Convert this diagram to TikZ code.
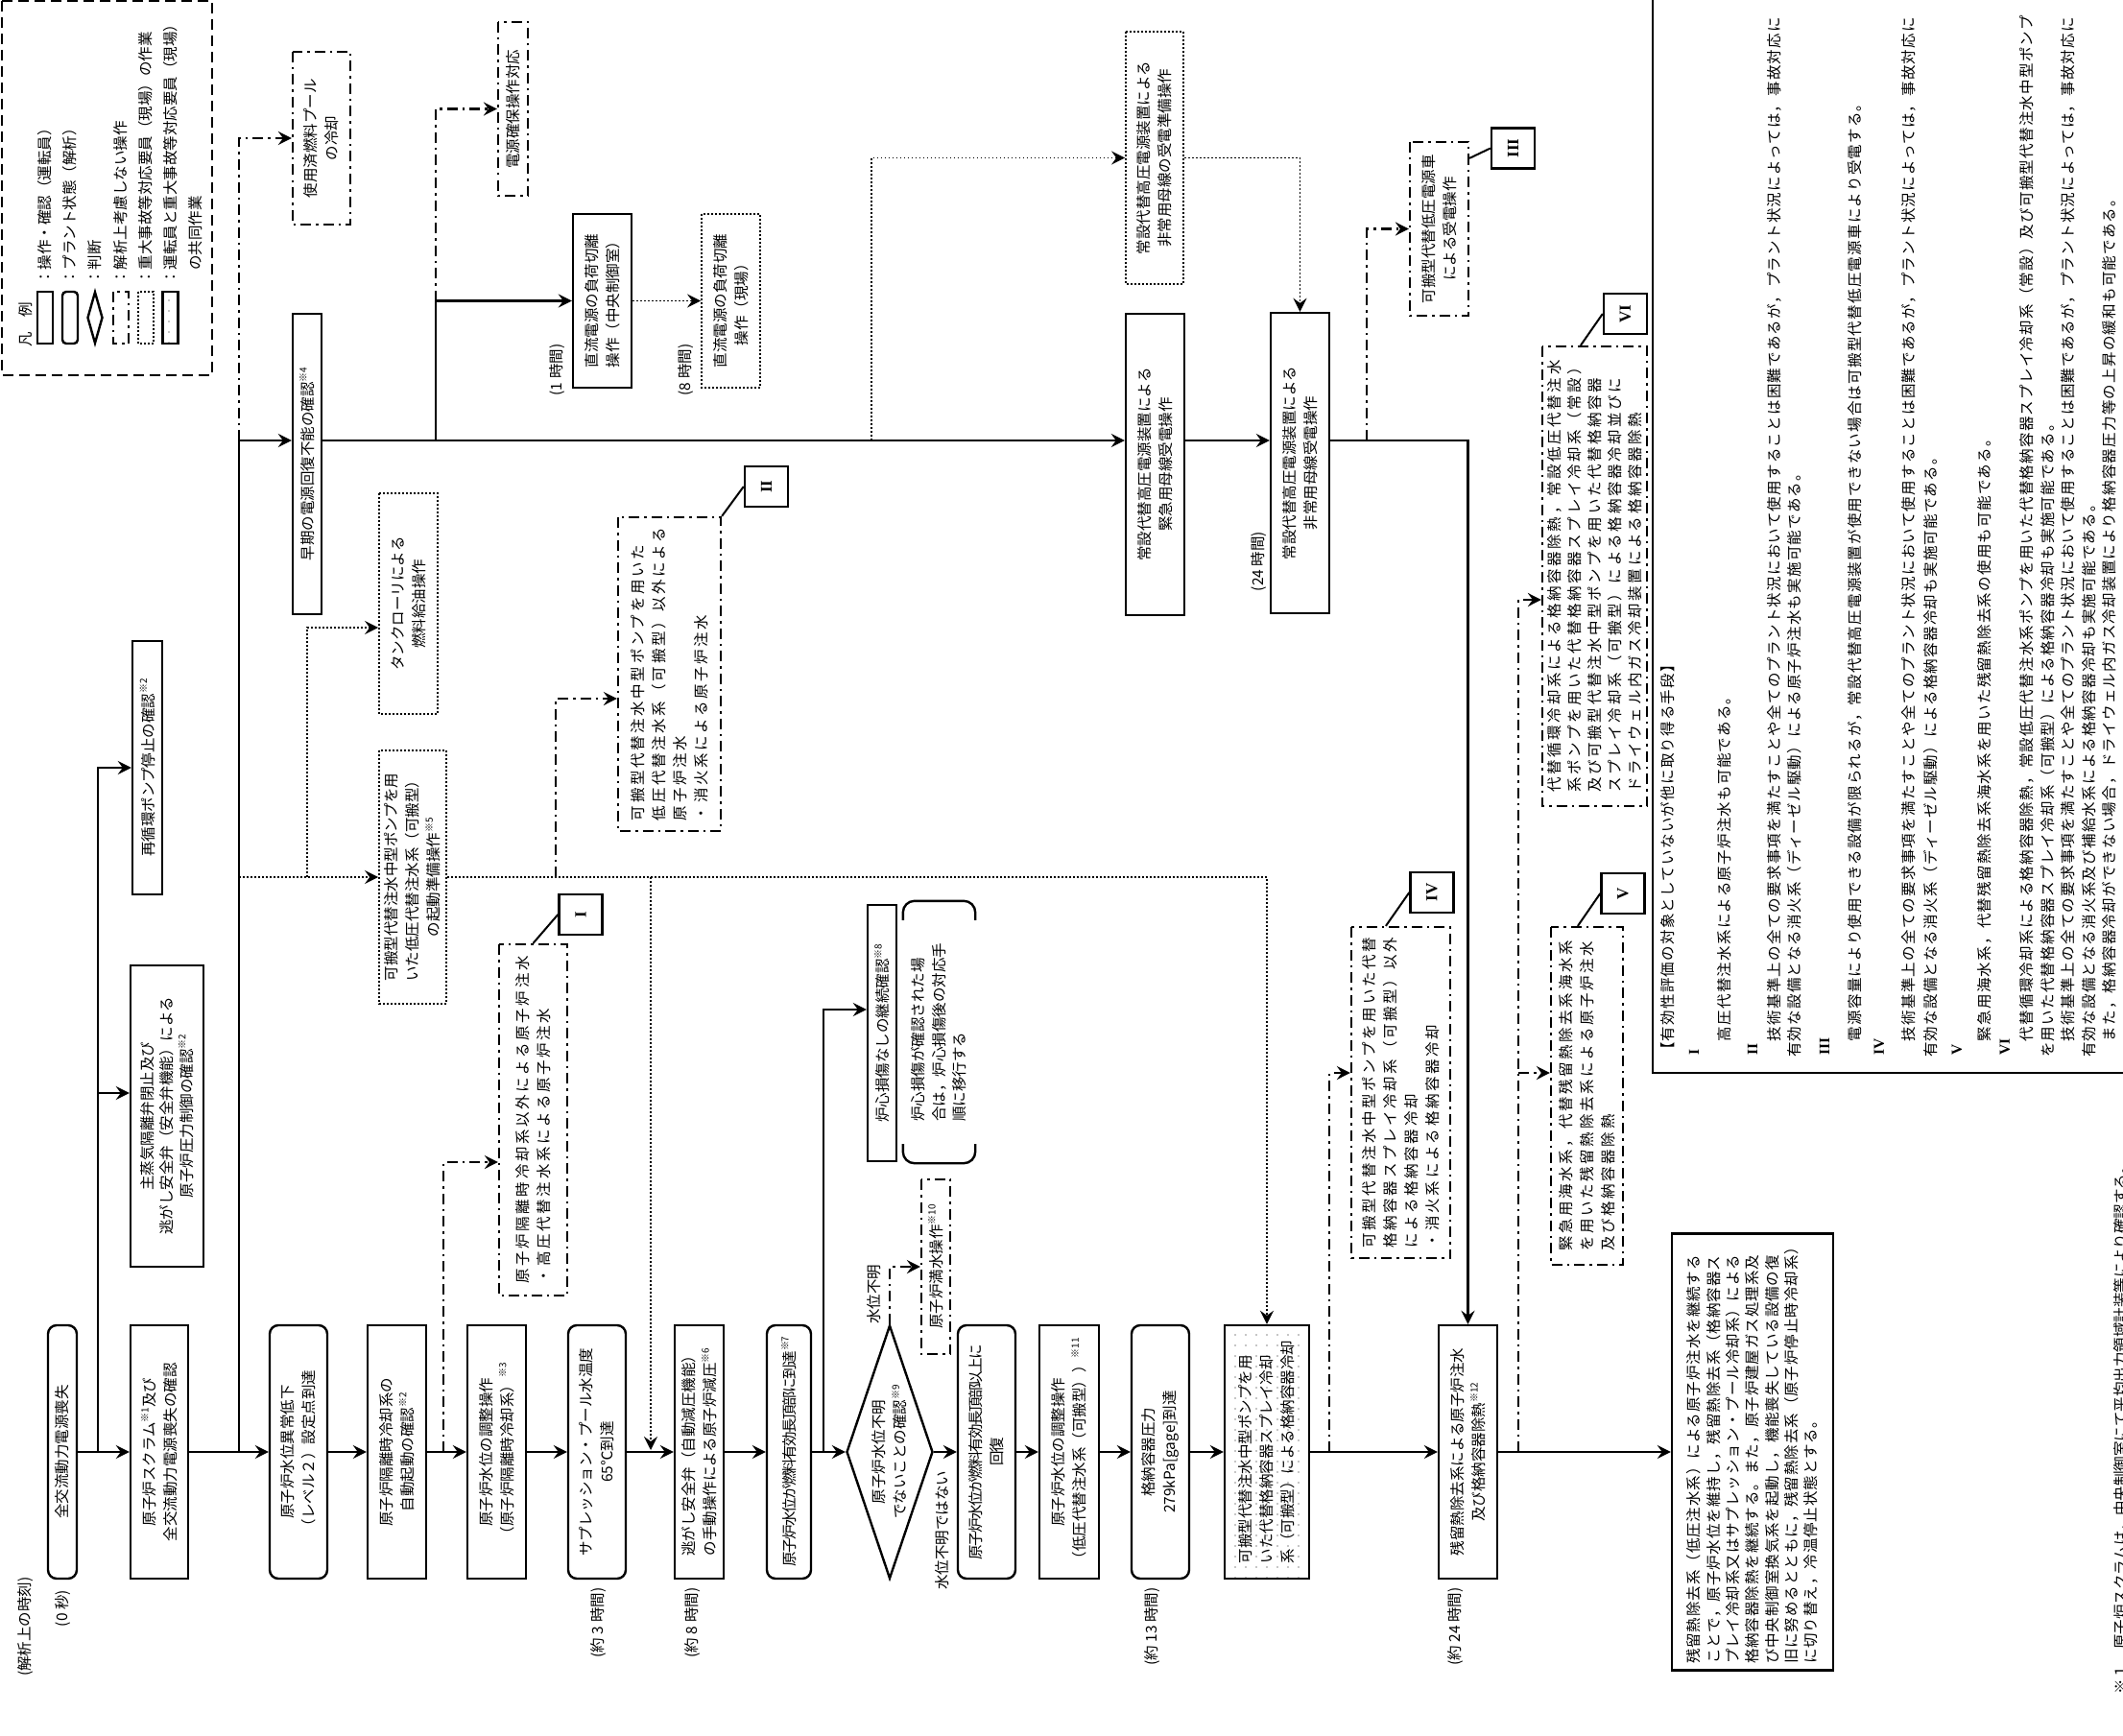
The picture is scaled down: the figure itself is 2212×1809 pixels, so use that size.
\documentclass[tikz,border=0pt]{standalone}
\usepackage{fontspec}
\newfontfamily\jp{Noto Sans CJK JP}
\newfontfamily\jpwide{Noto Sans CJK JP}[LetterSpace=17]
\newfontfamily\jpmid{Noto Sans CJK JP}[LetterSpace=8]
\newfontfamily\jpbox{Noto Sans CJK JP}[LetterSpace=6]
\newfontfamily\jpnarrow{Noto Sans CJK JP}[LetterSpace=-10]
\newfontfamily\numfont{Liberation Serif}
\newcommand\jsz{\fontsize{15.5pt}{22pt}\selectfont}
\newcommand\kome[1]{\raisebox{.45em}{\fontsize{10pt}{10pt}\selectfont ※#1}}
\usetikzlibrary{arrows.meta,shapes.geometric,calc,patterns,patterns.meta}

\begin{document}
\begin{tikzpicture}[x=1pt, y=-1pt,
  every node/.style={rotate=90, inner sep=0pt, align=center, font=\jp\jsz},
  op/.style={draw, line width=2.4pt},
  plant/.style={op, rounded corners=9pt},
  judge/.style={draw, line width=2.4pt, diamond, aspect=2.9},
  extra/.style={draw, line width=2.2pt, dash pattern=on 11pt off 5pt on 2.5pt off 5pt},
  field/.style={draw, line width=1.8pt, dash pattern=on 1.8pt off 2.2pt},
  joint/.style={op, pattern={Dots[radius=0.9pt,distance=11pt]}, pattern color=black!45},
  tag/.style={draw, line width=2.4pt, minimum width=42pt, minimum height=45pt,
    font=\numfont\bfseries\fontsize{17pt}{17pt}\selectfont},
  flow/.style={line width=2.4pt, -{Stealth[length=14pt,width=14pt,inset=5pt]}},
  extraflow/.style={flow, line width=2.2pt, dash pattern=on 11pt off 5pt on 2.5pt off 5pt},
  fieldflow/.style={flow, line width=1.8pt, dash pattern=on 1.8pt off 2.2pt},
  leader/.style={line width=2pt},
  bracket/.style={line width=2.4pt, rounded corners=12pt},
  legendbox/.style={line width=2.4pt, dash pattern=on 11pt off 6pt},
  memo/.style={anchor=west, font=\jpmid\jsz},
  memonum/.style={anchor=west, font=\numfont\bfseries\fontsize{15.5pt}{15.5pt}\selectfont}
]
\useasboundingbox (0,0) rectangle (2212,1809);

% legend
\draw[legendbox] (2,1) rectangle (221,391);
\node (lgtitle) at (27,338) {凡　例};
\node[op, minimum width=54pt, minimum height=16pt] (lg1) at (47,331) {};
\node[plant, rounded corners=4pt, minimum width=54pt, minimum height=16pt] (lg2) at (73,331) {};
\node[judge, aspect=3.4, minimum width=54pt, minimum height=16pt] (lg3) at (99,331) {};
\node[extra, minimum width=54pt, minimum height=16pt] (lg4) at (126,331) {};
\node[field, minimum width=54pt, minimum height=16pt] (lg5) at (152,331) {};
\node[joint, minimum width=54pt, minimum height=16pt] (lg6) at (177.5,331) {};
\node[anchor=west] (lgt1) at (47,297) {：操作・確認（運転員）};
\node[anchor=west] (lgt2) at (73,297) {：プラント状態（解析）};
\node[anchor=west] (lgt3) at (99,297) {：判断};
\node[anchor=west] (lgt4) at (126,297) {：解析上考慮しない操作};
\node[anchor=west] (lgt5) at (152,297) {：重大事故等対応要員（現場）の作業};
\node[anchor=west] (lgt6) at (177.5,297) {：運転員と重大事故等対応要員（現場）};
\node[anchor=west] (lgt7) at (204,282) {の共同作業};

% main sequence
\node[plant, minimum width=264pt, minimum height=30pt] (A) at (65,1513) {全交流動力電源喪失};
\node[op, minimum width=264pt, minimum height=60pt] (B) at (166,1513) {原子炉スクラム\kome{1}及び\\全交流動力電源喪失の確認};
\node[plant, minimum width=264pt, minimum height=60pt] (C) at (311,1513) {原子炉水位異常低下\\（レベル２）設定点到達};
\node[op, minimum width=264pt, minimum height=61pt] (D) at (413.5,1513) {原子炉隔離時冷却系の\\自動起動の確認\kome{2}};
\node[op, minimum width=264pt, minimum height=61pt] (E) at (517.5,1513) {原子炉水位の調整操作\\（原子炉隔離時冷却系）\kome{3}};
\node[plant, minimum width=264pt, minimum height=60pt] (F) at (622,1513) {サプレッション・プール水温度\\65℃到達};
\node[op, minimum width=264pt, minimum height=51pt] (G) at (728.5,1513) {逃がし安全弁（自動減圧機能）\\の手動操作による原子炉減圧\kome{6}};
\node[plant, minimum width=264pt, minimum height=46pt, font=\jpnarrow\jsz] (H) at (822,1513) {原子炉水位が燃料有効長頂部に到達\kome{7}};
\node[judge, minimum width=264pt, minimum height=90pt] (dia) at (927,1513) {原子炉水位不明\\でないことの確認\kome{9}};
\node[plant, minimum width=264pt, minimum height=60pt, font=\jpnarrow\jsz] (J) at (1028,1513) {原子炉水位が燃料有効長頂部以上に\\回復};
\node[op, minimum width=264pt, minimum height=62pt] (K) at (1114,1513) {原子炉水位の調整操作\\（低圧代替注水系（可搬型））\kome{11}};
\node[plant, minimum width=264pt, minimum height=60pt] (L) at (1209,1513) {格納容器圧力\\279kPa[gage]到達};
\node[joint, minimum width=264pt, minimum height=88pt, align=left] (M) at (1320,1513) {可搬型代替注水中型ポンプを用\\いた代替格納容器スプレイ冷却\\系（可搬型）による格納容器冷却};
\node[op, minimum width=264pt, minimum height=61pt] (N) at (1529.5,1513) {残留熱除去系による原子炉注水\\及び格納容器除熱\kome{12}};
\node[op, minimum width=455pt, minimum height=168pt, align=left, font=\jpbox\fontsize{15.5pt}{20.3pt}\selectfont] (O) at (1826,1513) {残留熱除去系（低圧注水系）による原子炉注水を継続する\\ことで，原子炉水位を維持し，残留熱除去系（格納容器ス\\プレイ冷却系又はサプレッション・プール冷却系）による\\格納容器除熱を継続する。また，原子炉建屋ガス処理系及\\び中央制御室換気系を起動し，機能喪失している設備の復\\旧に努めるとともに，残留熱除去系（原子炉停止時冷却系）\\に切り替え，冷温停止状態とする。};

% time labels
\node (tlabel) at (27,1695) {(解析上の時刻)};
\node (t0s) at (66,1676) {(0 秒)};
\node (t3h) at (623,1691) {(約 3 時間)};
\node (t8h) at (721,1691) {(約 8 時間)};
\node (t13h) at (1200,1695) {(約 13 時間)};
\node (t24h) at (1516,1695) {(約 24 時間)};
\node (t1hb) at (580,385.5) {(1 時間)};
\node (t8hb) at (714,385.5) {(8 時間)};
\node (t24hb) at (1311,585) {(24 時間)};

% upper branches
\node[op, minimum width=264pt, minimum height=31pt] (T) at (153.5,800) {再循環ポンプ停止の確認\kome{2}};
\node[op, minimum width=314pt, minimum height=76pt, font=\jp\fontsize{15.5pt}{20.5pt}\selectfont] (U) at (174,1163) {主蒸気隔離弁閉止及び\\逃がし安全弁（安全弁機能）による\\原子炉圧力制御の確認\kome{2}};
\node[op, minimum width=313pt, minimum height=30pt] (early) at (320,483.5) {早期の電源回復不能の確認\kome{4}};
\node[extra, minimum width=180pt, minimum height=60pt] (pool) at (335,144) {使用済燃料プール\\の冷却};
\node[extra, minimum width=181pt, minimum height=31pt] (secure) at (534.5,113.5) {電源確保操作対応};
\node[op, minimum width=181pt, minimum height=61pt] (X) at (627.5,313.5) {直流電源の負荷切離\\操作（中央制御室）};
\node[field, minimum width=181pt, minimum height=61pt] (Y) at (761.5,313.5) {直流電源の負荷切離\\操作（現場）};
\node[field, minimum width=263pt, minimum height=60pt] (P) at (1203,164.5) {常設代替高圧電源装置による\\非常用母線の受電準備操作};
\node[op, minimum width=314pt, minimum height=61pt] (Q) at (1203.5,484) {常設代替高圧電源装置による\\緊急用母線受電操作};
\node[op, minimum width=313pt, minimum height=61pt] (R) at (1354.5,482.5) {常設代替高圧電源装置による\\非常用母線受電操作};
\node[extra, minimum width=181pt, minimum height=61pt] (S) at (1499.5,238.5) {可搬型代替低圧電源車\\による受電操作};
\node[field, minimum width=230pt, minimum height=61pt] (tank) at (425.5,629) {タンクローリによる\\燃料給油操作};
\node[field, minimum width=264pt, minimum height=70pt] (W) at (430,914) {可搬型代替注水中型ポンプを用\\いた低圧代替注水系（可搬型）\\の起動準備操作\kome{5}};
\node[extra, minimum width=366pt, minimum height=71pt, align=left, font=\jpwide\jsz] (boxI) at (555.5,1167) {原子炉隔離時冷却系以外による原子炉注水\\・高圧代替注水系による原子炉注水};
\node[extra, minimum width=327pt, minimum height=107pt, align=left, font=\jpwide\jsz] (boxII) at (697.5,702.5) {可搬型代替注水中型ポンプを用いた\\低圧代替注水系（可搬型）以外による\\原子炉注水\\・消火系による原子炉注水};
\node[op, minimum width=267pt, minimum height=30pt] (core) at (919,1076.5) {炉心損傷なしの継続確認\kome{8}};
\node[minimum width=273pt, minimum height=75pt, align=left, font=\jp\fontsize{15.5pt}{21.5pt}\selectfont] (kk) at (978.5,1075.5) {炉心損傷が確認された場\\合は，炉心損傷後の対応手\\順に移行する};
\node[extra, minimum width=182pt, minimum height=30pt] (fill) at (975,1320) {原子炉満水操作\kome{10}};
\node[extra, minimum width=345pt, minimum height=103pt, align=left, font=\jpwide\jsz] (boxIV) at (1459.5,1138.5) {可搬型代替注水中型ポンプを用いた代替\\格納容器スプレイ冷却系（可搬型）以外\\による格納容器冷却\\・消火系による格納容器冷却};
\node[extra, minimum width=352pt, minimum height=75pt, align=left, font=\jpwide\jsz] (boxV) at (1653.5,1142) {緊急用海水系，代替残留熱除去系海水系\\を用いた残留熱除去系による原子炉注水\\及び格納容器除熱};
\node[extra, minimum width=479pt, minimum height=109pt, align=left, font=\jpwide\fontsize{15.5pt}{21pt}\selectfont] (boxVI) at (1661.5,600.5) {代替循環冷却系による格納容器除熱，常設低圧代替注水\\系ポンプを用いた代替格納容器スプレイ冷却系（常設）\\及び可搬型代替注水中型ポンプを用いた代替格納容器\\スプレイ冷却系（可搬型）による格納容器冷却並びに\\ドライウェル内ガス冷却装置による格納容器除熱};
\node (lowlvl) at (911,1348.5) {水位不明};
\node (oklvl) at (982,1594.5) {水位不明ではない};

% tags
\node[tag] (tagI) at (605,953) {I};
\node[tag] (tagII) at (798.5,507) {II};
\node[tag] (tagIII) at (1576.5,154.5) {III};
\node[tag] (tagIV) at (1492,930) {IV};
\node[tag] (tagV) at (1691,931) {V};
\node[tag] (tagVI) at (1693.5,327) {VI};

% junctions
\coordinate (rowTop) at (0,459);
\coordinate (rowU) at (0,1139);
\coordinate (rowTank) at (0,654);
\coordinate (rowII) at (0,728);
\coordinate (rowI) at (0,1211);
\coordinate (rowCore) at (0,1052);
\coordinate (rowIV) at (0,1118);
\coordinate (rowVI) at (0,625);
\coordinate (m1) at (102,1513);
\coordinate (m2) at (249,1513);
\coordinate (m3) at (678,1511);
\coordinate (m4) at (462,1513);
\coordinate (m5) at (858,1513);
\coordinate (m6) at (1385,1513);
\coordinate (m7) at (1582,1513);
\coordinate (t0) at (249,459);
\coordinate (t1) at (454,459);
\coordinate (t2) at (908,459);
\coordinate (t3) at (1424,459);
\coordinate (d0) at (249,914);
\coordinate (d1) at (320,914);
\coordinate (d2) at (678,914);
\coordinate (d3) at (579,914);

% main flow
\draw[flow] (A) -- (B);
\draw[flow] (B) -- (C);
\draw[flow] (C) -- (D);
\draw[flow] (D) -- (E);
\draw[flow] (E) -- (F);
\draw[flow] (F) -- (G);
\draw[flow] (G) -- (H);
\draw[flow] (H) -- (dia);
\draw[flow] (dia) -- (J);
\draw[flow] (J) -- (K);
\draw[flow] (K) -- (L);
\draw[flow] (L) -- (M);
\draw[flow] (M) -- (N);
\draw[flow] (N) -- (O);

\draw[flow] (m1) |- (T);
\draw[flow] (m1) |- (U.north |- rowU);
\draw[flow] (m2) |- (early.north |- rowTop);
\draw[flow] (early.south |- rowTop) -- (Q.north |- rowTop);
\draw[flow] (t1) |- (X);
\draw[extraflow] (t1 |- X) |- (secure);
\draw[fieldflow] (X) -- (Y);
\draw[fieldflow] (t2) |- (P);
\draw[fieldflow] (P) -| (R);
\draw[flow] (Q.south |- rowTop) -- (R.north |- rowTop);
\draw[flow] (R.south |- rowTop) -| (N);
\draw[extraflow] (t3) |- (S);
\draw[extraflow] (t0) |- (pool);
\draw[fieldflow] (d0) -- (W);
\draw[fieldflow] (d1) |- (tank.north |- rowTank);
\draw[fieldflow] (W) -| (M);
\draw[fieldflow] (d2) -- (m3);
\draw[extraflow] (d3) |- (boxII.north |- rowII);
\draw[extraflow] (m4) |- (boxI.north |- rowI);
\draw[flow] (m5) |- (core.north |- rowCore);
\draw[extraflow] (dia.east) |- (fill);
\draw[extraflow] (m6) |- (boxIV.north |- rowIV);
\draw[extraflow] (m7) |- (boxVI.north |- rowVI);
\draw[extraflow] (m7 |- rowIV) -- (boxV.north |- rowIV);

% brackets round the note
\draw[bracket] ($(kk.north east)+(0,20)$) -- (kk.north east) -- (kk.south east) -- ($(kk.south east)+(0,20)$);
\draw[bracket] ($(kk.north west)+(0,-20)$) -- (kk.north west) -- (kk.south west) -- ($(kk.south west)+(0,-20)$);

% leaders to tags
\draw[leader] (boxI.east) -- (tagI.north);
\draw[leader] (boxII.south east) -- (tagII.north);
\draw[leader] ($(S.south east)+(0,18)$) -- (tagIII.north);
\draw[leader] ($(boxIV.north east)+(37,0)$) -- (tagIV.north);
\draw[leader] ($(boxV.north east)+(29,0)$) -- (tagV.north);
\draw[leader] ($(boxVI.north east)+(41,0)$) -- (tagVI.north);

% other means
\draw[line width=2.4pt] (1722,-10) rectangle (2240,1118);
\node[memo] (mm0) at (1738,1102) {【有効性評価の対象としていないが他に取り得る手段】};
\node[memonum] (mn1) at (1765,1100) {I};
\node[memo] (mm1) at (1797,1102) {　高圧代替注水系による原子炉注水も可能である。};
\node[memonum] (mn2) at (1826,1100) {II};
\node[memo] (mm2) at (1849,1102) {　技術基準上の全ての要求事項を満たすことや全てのプラント状況において使用することは困難であるが，プラント状況によっては，事故対応に};
\node[memo] (mm3) at (1870,1102) {有効な設備となる消火系（ディーゼル駆動）による原子炉注水も実施可能である。};
\node[memonum] (mn3) at (1901,1100) {III};
\node[memo] (mm4) at (1933,1102) {　電源容量により使用できる設備が限られるが，常設代替高圧電源装置が使用できない場合は可搬型代替低圧電源車により受電する。};
\node[memonum] (mn4) at (1958,1100) {IV};
\node[memo] (mm5) at (1989,1102) {　技術基準上の全ての要求事項を満たすことや全てのプラント状況において使用することは困難であるが，プラント状況によっては，事故対応に};
\node[memo] (mm6) at (2012,1102) {有効な設備となる消火系（ディーゼル駆動）による格納容器冷却も実施可能である。};
\node[memonum] (mn5) at (2039,1100) {V};
\node[memo] (mm7) at (2068,1102) {　緊急用海水系，代替残留熱除去系海水系を用いた残留熱除去系の使用も可能である。};
\node[memonum] (mn6) at (2089,1100) {VI};
\node[memo] (mm8) at (2112,1102) {　代替循環冷却系による格納容器除熱，常設低圧代替注水系ポンプを用いた代替格納容器スプレイ冷却系（常設）及び可搬型代替注水中型ポンプ};
\node[memo] (mm9) at (2134,1102) {を用いた代替格納容器スプレイ冷却系（可搬型）による格納容器冷却も実施可能である。};
\node[memo] (mm10) at (2155,1102) {　技術基準上の全ての要求事項を満たすことや全てのプラント状況において使用することは困難であるが，プラント状況によっては，事故対応に};
\node[memo] (mm11) at (2177,1102) {有効な設備となる消火系及び補給水系による格納容器冷却も実施可能である。};
\node[memo] (mm12) at (2198,1102) {　また，格納容器冷却ができない場合，ドライウェル内ガス冷却装置により格納容器圧力等の上昇の緩和も可能である。};
\node[anchor=east] (foot) at (2210,1208) {※１　原子炉スクラムは，中央制御室にて平均出力領域計装等により確認する。};
\end{tikzpicture}
\end{document}
